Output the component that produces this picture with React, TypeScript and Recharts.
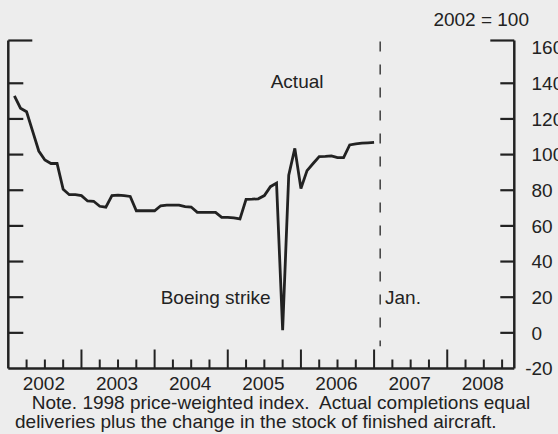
import { LineChart, Line, XAxis, YAxis, ReferenceLine } from 'recharts'

// aircraft completions index, 2002 = 100, monthly Jan 2002 .. Dec 2006
const VALUES = [
  133, 126, 124, 113, 102, 97, 95, 95, 80.5, 77.5, 77.5, 77,
  74, 73.8, 71, 70.5, 77, 77.3, 77, 76.5, 68.5, 68.5, 68.5, 68.5,
  71.3, 71.7, 71.7, 71.7, 70.8, 70.6, 67.6, 67.6, 67.6, 67.6, 64.8, 64.8,
  64.5, 63.9, 74.9, 75, 75.2, 77, 82, 84, 1.5, 88.5, 103.5, 81,
  91, 95, 98.9, 99, 99.3, 98.3, 98.3, 105.4, 106, 106.4, 106.6, 106.8,
]
const YEARS = ['2002', '2003', '2004', '2005', '2006', '2007', '2008']
const Y_TICKS = [-20, 0, 20, 40, 60, 80, 100, 120, 140, 160]
const Y_TOP = 164
const X_TICKS = [
  0, 3, 6, 9, 12, 15, 18, 21, 24, 27, 30, 33, 36, 39, 42, 45, 48, 51, 54, 57,
  60, 63, 66, 69, 72, 75, 78, 81,
]
const X_END = 83
const JAN_2007 = 61

const rows = VALUES.map((v, i) => ({ m: i + 1, v }))

const W = 558
const H = 434
const AXIS_L = 8.3
const AXIS_R = 43.7
const PLOT_W = W - AXIS_L - AXIS_R

const INK = '#222'
const FONT = '"Liberation Sans", Arial, sans-serif'
const FS = 19

function XTick(props: any) {
  const { x, y, payload } = props
  const m = payload.value
  const major = m % 12 === 0
  return (
    <g>
      {m > 0 && (
        <line x1={x} x2={x} y1={y} y2={y - (major ? 19 : 9)} stroke={INK} strokeWidth={2} />
      )}
      {m % 12 === 6 && (
        <text x={x - 1} y={y + 21} textAnchor="middle" fill={INK} fontSize={FS} fontFamily={FONT}>
          {YEARS[Math.floor(m / 12)]}
        </text>
      )}
    </g>
  )
}

// right-axis tick: draws the stubs on both frame sides plus the label
function FrameTick(props: any) {
  const { x, y, payload } = props
  const v = payload.value
  const xl = x - PLOT_W
  if (v === Y_TOP) {
    return (
      <g>
        <line x1={xl} x2={xl + 24} y1={y} y2={y} stroke={INK} strokeWidth={2.2} />
        <line x1={x - 24} x2={x} y1={y} y2={y} stroke={INK} strokeWidth={2.2} />
      </g>
    )
  }
  const lx = x + 17.2 - (v < 0 ? 6.3 : 0)
  const stub = v > -20 && v < 160
  return (
    <g>
      {stub && <line x1={xl} x2={xl + 15} y1={y} y2={y} stroke={INK} strokeWidth={2.2} />}
      {stub && <line x1={x - 14} x2={x} y1={y} y2={y} stroke={INK} strokeWidth={2.2} />}
      <text x={lx} y={y + 6.8} fill={INK} fontSize={FS} fontFamily={FONT}>
        {v}
      </text>
    </g>
  )
}

export default function App() {
  const yTicks = [...Y_TICKS, Y_TOP]
  return (
    <div style={{ position: 'absolute', left: 0, top: 0, width: W, height: H, background: '#ededed' }}>
      <LineChart width={W} height={H} data={rows} margin={{ top: 40.5, right: 0, bottom: 0, left: 0 }}>
        <XAxis
          dataKey="m"
          type="number"
          domain={[0, X_END]}
          ticks={X_TICKS}
          interval={0}
          tickSize={0}
          tickMargin={0}
          height={65.5}
          tickLine={false}
          axisLine={{ stroke: INK, strokeWidth: 2.5 }}
          tick={<XTick />}
        />
        <YAxis
          yAxisId="l"
          orientation="left"
          width={AXIS_L}
          type="number"
          domain={[-20, Y_TOP]}
          tick={false}
          tickLine={false}
          axisLine={{ stroke: INK, strokeWidth: 2.5 }}
        />
        <YAxis
          yAxisId="r"
          orientation="right"
          width={AXIS_R}
          type="number"
          domain={[-20, Y_TOP]}
          ticks={yTicks}
          interval={0}
          tickSize={0}
          tickMargin={0}
          tickLine={false}
          axisLine={{ stroke: INK, strokeWidth: 2.5 }}
          tick={<FrameTick />}
        />
        <ReferenceLine
          yAxisId="r"
          segment={[{ x: JAN_2007, y: 163.5 }, { x: JAN_2007, y: -7.5 }]}
          stroke="#333"
          strokeWidth={1.4}
          strokeDasharray="10 13"
        />
        <Line
          yAxisId="r"
          type="linear"
          dataKey="v"
          stroke={INK}
          strokeWidth={2.8}
          dot={false}
          isAnimationActive={false}
        />
      </LineChart>
      <svg
        width={W}
        height={H}
        style={{ position: 'absolute', left: 0, top: 0, pointerEvents: 'none' }}
        fontFamily={FONT}
        fontSize={FS}
        fill={INK}
      >
        <text x={529} y={25.5} textAnchor="end">2002 = 100</text>
        <text x={270.7} y={87.5}>Actual</text>
        <text x={270.5} y={304} textAnchor="end">Boeing strike</text>
        <text x={385} y={304}>Jan.</text>
        <text x={31.7} y={408.5} xmlSpace="preserve" style={{ whiteSpace: 'pre' }}>
          Note. 1998 price-weighted index.  Actual completions equal
        </text>
        <text x={15} y={428}>deliveries plus the change in the stock of finished aircraft.</text>
      </svg>
    </div>
  )
}
